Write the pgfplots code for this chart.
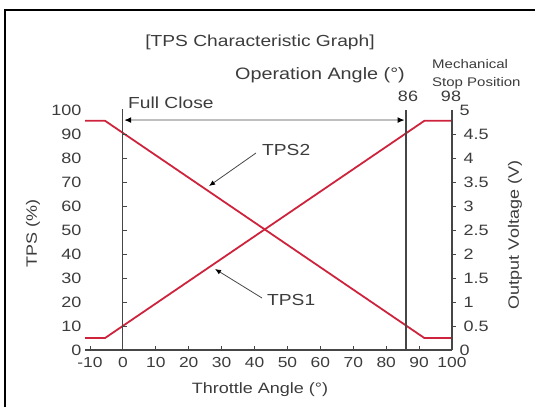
\documentclass[border=0pt]{standalone}
\usepackage{pgfplots}
\pgfplotsset{compat=1.18}
\usepackage{fontspec}
\setmainfont[FakeStretch=1.2]{Liberation Sans}
\usetikzlibrary{arrows.meta}
\definecolor{tpsred}{RGB}{205,35,60}
\definecolor{txtgray}{RGB}{60,60,60}
\definecolor{axgray}{RGB}{70,70,70}
\newcommand{\fs}[1]{\fontsize{#1bp}{#1bp}\selectfont}

\begin{document}
\begin{tikzpicture}[x=1bp,y=1bp]
\useasboundingbox (0,0) rectangle (535,407);
\draw[line width=2bp] (5,0) -- (5,397) -- (535,397);

\begin{axis}[
    at={(85bp,57bp)}, anchor=south west,
    scale only axis, width=367bp, height=240bp,
    xmin=-11.5, xmax=100, ymin=0, ymax=100,
    axis x line*=bottom, axis y line*=left,
    y axis line style={draw=none},
    x axis line style={axgray, line width=1.2pt, -},
    xtick={-10,0,...,100}, ytick={0,10,...,100},
    tick align=inside, major tick length=4bp,
    xtick style={axgray, line width=0.8pt},
    ytick style={draw=none},
    tick label style={font=\fs{15}, text=txtgray},
    xticklabel style={yshift=-4bp, font=\fs{14.5}},
    /pgf/number format/assume math mode=true,
    clip=false,
]
\addplot[tpsred, line width=1.8pt, no marks] coordinates {
    (-11.5,5) (-5.4,5) (91.6,95.5) (100,95.5)
};
\addplot[tpsred, line width=1.8pt, no marks] coordinates {
    (-11.5,95.5) (-5.4,95.5) (91.6,5) (100,5)
};
% full close line with inner ticks
\draw[axgray, line width=1.2pt] (axis cs:0,0) -- (axis cs:0,100.5);
\pgfplotsinvokeforeach{10,20,30,40,50,60,70,80,90}{
    \draw[axgray, line width=0.8pt] (axis cs:0,#1) -- (axis cs:1.2,#1);
}
\draw[axgray, line width=1.2pt] (axis cs:86,0) -- (axis cs:86,100);
\draw[black!25, line width=1.2pt,
    {Latex[black,length=7bp,width=6bp]}-{Latex[black,length=7bp,width=6bp]}]
    (axis cs:0.4,95.8) -- (axis cs:85.6,95.8);
\end{axis}

\begin{axis}[
    at={(85bp,57bp)}, anchor=south west,
    scale only axis, width=367bp, height=240bp,
    xmin=-11.5, xmax=100, ymin=0, ymax=5,
    axis x line=none, axis y line*=right,
    y axis line style={axgray, line width=1.2pt, -},
    ytick={0.5,1,...,4.5}, extra y ticks={0,5},
    extra y tick style={major tick length=0pt},
    tick align=outside, major tick length=4bp,
    ytick style={axgray, line width=0.8pt},
    tick label style={font=\fs{15}, text=txtgray},
    yticklabel style={xshift=4bp},
    /pgf/number format/assume math mode=true,
    /pgf/number format/fixed,
]
\addplot[draw=none] coordinates {(0,0) (100,5)};
\end{axis}

\begin{scope}[every node/.style={text=txtgray, inner sep=0pt}]
\node[font=\fs{16}] at (260,365) {[TPS Characteristic Graph]};
\node[font=\fs{16.5}, anchor=east] at (405,332) {Operation Angle (°)};
\node[font=\fs{12.5}, anchor=west] at (432,343) {Mechanical};
\node[font=\fs{12.5}, anchor=west] at (432,324) {Stop Position};
\node[font=\fs{15}] at (408,311) {86};
\node[font=\fs{15}] at (451,311) {98};
\node[font=\fs{16}, anchor=west] at (128,304) {Full Close};
\node[font=\fs{15}, rotate=90] at (33,174) {TPS (\%)};
\node[font=\fs{15}, rotate=90] at (515,172) {Output Voltage (V)};
\node[font=\fs{15}] at (260,17) {Throttle Angle (°)};
\node[font=\fs{16}, anchor=west] at (262,257) {TPS2};
\node[font=\fs{16}, anchor=west] at (267,107) {TPS1};
\end{scope}
\draw[axgray, line width=0.8pt, -{Latex[black,length=6bp,width=5bp]}] (256,254) -- (209,221);
\draw[axgray, line width=0.8pt, -{Latex[black,length=6bp,width=5bp]}] (262,109) -- (215,138);
\end{tikzpicture}
\end{document}
